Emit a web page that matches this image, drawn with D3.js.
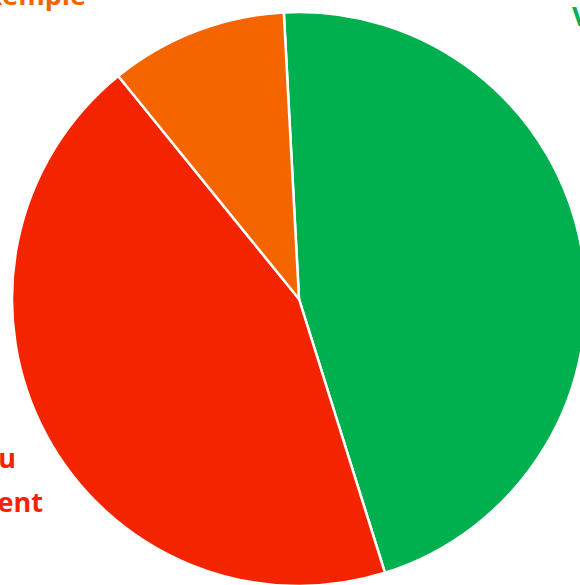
<!DOCTYPE html>
<html>
<head>
<meta charset="utf-8">
<script src="https://cdn.jsdelivr.net/npm/d3@7"></script>
<style>
  body { margin: 0; background: #fff; }
  svg { display: block; }
</style>
</head>
<body>
<svg id="chart" width="580" height="585"></svg>
<script>
// slice data, clockwise from the top
const categories = ["Vrai", "Faux", "Exemple"]
const values = [46, 44, 10]
const colors = ["#00b04f", "#f42400", "#f46500"]

const svg = d3.select("#chart")
const cx = 299, cy = 299, radius = 287

let pie = d3.pie().sort(null).value(d => d.value)
    .startAngle(-0.053).endAngle(-0.053 + 2 * Math.PI)
let arc = d3.arc().innerRadius(0).outerRadius(radius)

let data = categories.map((c, i) => ({ name: c, value: values[i], color: colors[i] }))

let g = svg.append("g").attr("transform", `translate(${cx},${cy})`)
g.selectAll("path").data(pie(data)).enter().append("path")
    .attr("d", arc)
    .attr("fill", d => d.data.color)
    .attr("stroke", "#fff")
    .attr("stroke-width", 2.5)
    .attr("stroke-linejoin", "round")

// labels sit outside the pie and are mostly cut off by the frame
let labelFont = "'Open Sans', sans-serif"
svg.append("text").attr("x", 572).attr("y", 26)
    .attr("fill", colors[0]).text("Vrai")
svg.append("text").attr("x", 86).attr("y", 5).attr("text-anchor", "end")
    .attr("fill", colors[2]).text("Exemple")
svg.append("text").attr("x", 16).attr("y", 468).attr("text-anchor", "end")
    .attr("fill", colors[1]).text("Peu")
svg.append("text").attr("x", 43).attr("y", 512).attr("text-anchor", "end")
    .attr("fill", colors[1]).text("Rarement")
svg.selectAll("text")
    .attr("font-family", labelFont)
    .attr("font-weight", "bold")
    .attr("font-size", 27)
</script>
</body>
</html>
